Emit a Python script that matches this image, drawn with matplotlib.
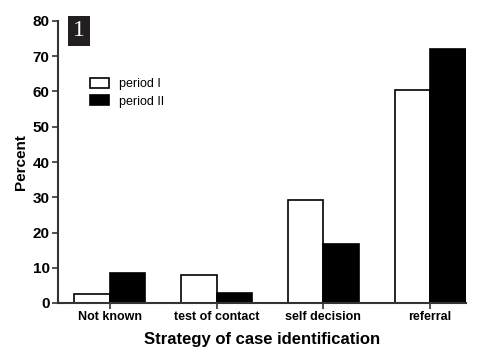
import numpy as np
import matplotlib
matplotlib.use("Agg")
import matplotlib.pyplot as plt

plt.rcParams["font.family"] = ["Liberation Sans", "DejaVu Sans"]

categories = ["Not known", "test of contact", "self decision", "referral"]
period_1 = [2.5, 7.9, 29.2, 60.4]
period_2 = [8.6, 2.8, 16.7, 72.0]
series_names = ["period I", "period II"]

fig = plt.figure(figsize=(4.79, 3.47), dpi=100)
ax = fig.add_axes([58 / 479, 44 / 347, (466 - 58) / 479, 282 / 347])

x = np.arange(len(categories))
w = 0.333
ax.bar(x - w / 2, period_1, w, color="white", edgecolor="black", lw=1.2,
       label=series_names[0])
ax.bar(x + w / 2, period_2, w, color="black", edgecolor="black", lw=1.2,
       label=series_names[1])

ax.set_xlim(-0.486, 3.336)
ax.set_ylim(0, 80)
ax.set_yticks(range(0, 81, 10))
ax.set_xticks(x)
ax.set_xticklabels(categories, fontsize=9, fontweight="bold")
for lab in ax.get_yticklabels():
    lab.set_fontsize(11)
    lab.set_fontweight("bold")
ax.tick_params(axis="both", direction="out", length=4, width=1.2,
               color="#333333", pad=2)

for s in ["top", "right"]:
    ax.spines[s].set_visible(False)
for s in ["left", "bottom"]:
    ax.spines[s].set_linewidth(1.5)
    ax.spines[s].set_color("#333333")

ax.set_ylabel("Percent", fontsize=11, fontweight="bold", labelpad=3)
ax.set_xlabel("Strategy of case identification", fontsize=12,
              fontweight="bold", labelpad=6)

leg = ax.legend(loc="upper left", bbox_to_anchor=(0.065, 0.815), frameon=False,
                fontsize=9, handlelength=1.55, handleheight=0.85,
                handletextpad=0.8, labelspacing=0.4, borderaxespad=0)

# panel number badge
fig.text(79 / 479, 1 - 31 / 347, "1", ha="center", va="center",
         fontsize=17, color="white", family="Liberation Serif",
         bbox=dict(boxstyle="square,pad=0.2", fc="#231f20", ec="none"))

fig.savefig("out.png", dpi=100)
